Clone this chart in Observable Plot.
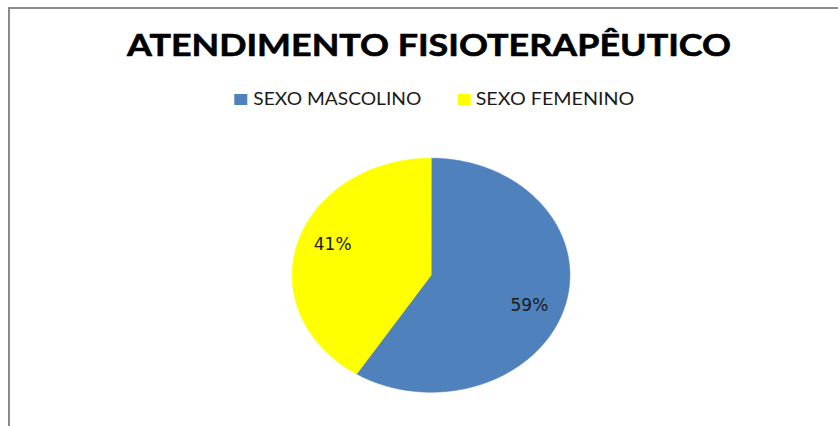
<!DOCTYPE html>
<html>
<head>
<meta charset="utf-8">
<script src="https://cdn.jsdelivr.net/npm/d3@7"></script>
<script src="https://cdn.jsdelivr.net/npm/@observablehq/plot@0.6"></script>
<style>
  body { margin: 0; background: #fff; }
  #chart { position: relative; width: 838px; height: 426px; overflow: hidden; background: #fff; }
  #frame { position: absolute; left: 8px; top: 7px; width: 840px; height: 430px;
           border-top: 2px solid #8a8a8a; border-left: 2px solid #8a8a8a; }
  #head { position: absolute; left: 0; top: 0; }
  #pie { position: absolute; left: 0; top: 120px; }
</style>
</head>
<body>
<div id="chart"><div id="frame"></div></div>
<script>
// ---- data ----
const title = "ATENDIMENTO FISIOTERAPÊUTICO";
const categories = ["SEXO MASCOLINO", "SEXO FEMENINO"];
const values = [59, 41];
const labels = ["59%", "41%"];
const colors = ["#4F81BD", "#FFFF00"];

// ---- header (title + legend) ----
const chart = document.getElementById("chart");
const head = d3.select(chart).append("svg").attr("id", "head")
  .attr("width", 838).attr("height", 120);
head.append("text")
  .attr("x", 429).attr("y", 56).attr("text-anchor", "middle")
  .attr("font-family", "Lato").attr("font-weight", "bold").attr("font-size", 31)
  .attr("textLength", 604).attr("lengthAdjust", "spacingAndGlyphs")
  .attr("stroke", "#000").attr("stroke-width", 0.6)
  .attr("fill", "#000").text(title);
const legendPos = [{sx: 234.3, tx: 253.3, tl: 168}, {sx: 457.7, tx: 475.7, tl: 158.6}];
categories.forEach((c, i) => {
  head.append("rect").attr("x", legendPos[i].sx).attr("y", 94).attr("width", 13).attr("height", 11)
    .attr("fill", colors[i]);
  head.append("text").attr("x", legendPos[i].tx).attr("y", 105)
    .attr("font-family", "Lato").attr("font-size", 16.5)
    .attr("textLength", legendPos[i].tl).attr("lengthAdjust", "spacingAndGlyphs")
    .attr("fill", "#1a1a1a").text(c);
});

// ---- pie geometry derived from values ----
const arcs = d3.pie().sort(null).startAngle(0).endAngle(2 * Math.PI)(values);
const pts = [];
arcs.forEach((a, i) => {
  const cat = categories[i];
  pts.push({cat, x: 0, y: 0});
  const n = Math.max(2, Math.ceil((a.endAngle - a.startAngle) / (Math.PI / 360)));
  for (let k = 0; k <= n; k++) {
    const t = a.startAngle + (a.endAngle - a.startAngle) * k / n;
    pts.push({cat, x: Math.sin(t), y: Math.cos(t)});
  }
});
const labelShift = 4 * Math.PI / 180;
const labelR = 0.755;
const lab = arcs.map((a, i) => {
  const m = (a.startAngle + a.endAngle) / 2 + labelShift;
  return {label: labels[i], x: labelR * Math.sin(m), y: labelR * Math.cos(m)};
});

const plot = Plot.plot({
  width: 838,
  height: 306,
  marginLeft: 291.7,
  marginRight: 268.6,
  marginTop: 37.7,
  marginBottom: 34.3,
  x: {domain: [-1, 1], axis: null},
  y: {domain: [-1, 1], axis: null},
  color: {domain: categories, range: colors},
  style: {background: "transparent", overflow: "visible"},
  marks: [
    Plot.line(pts, {x: "x", y: "y", z: "cat", fill: "cat", stroke: "cat", strokeWidth: 0.6, curve: "linear-closed"}),
    Plot.text(lab, {x: "x", y: "y", text: "label", fontSize: 17, fontFamily: "DejaVu Sans", fill: "#1a1a1a"})
  ]
});
plot.setAttribute("id", "pie");
chart.appendChild(plot);
</script>
</body>
</html>
